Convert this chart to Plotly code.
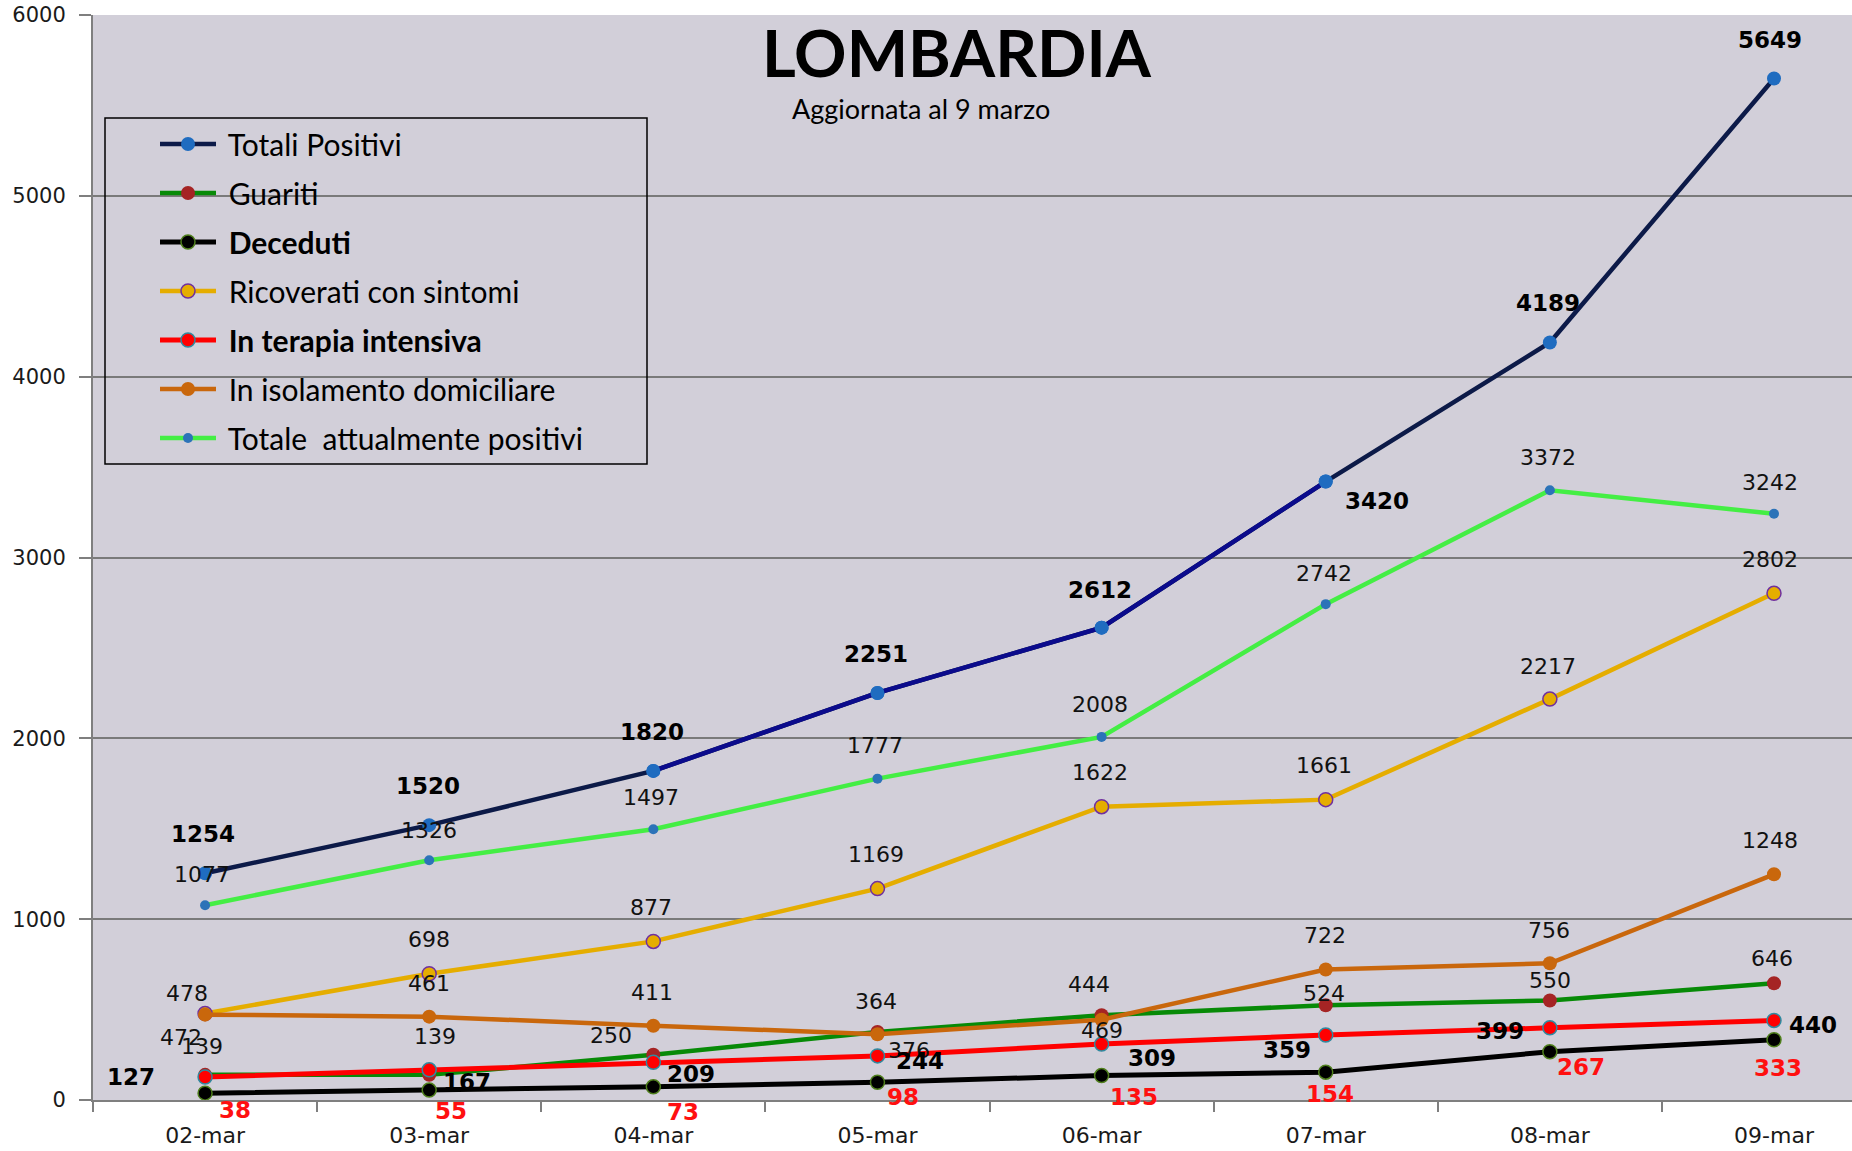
import plotly.graph_objects as go

# ---------------- data ----------------
dates = ["02-mar", "03-mar", "04-mar", "05-mar", "06-mar", "07-mar", "08-mar", "09-mar"]
totali_positivi = [1254, 1520, 1820, 2251, 2612, 3420, 4189, 5649]
guariti = [139, 139, 250, 376, 469, 524, 550, 646]
deceduti = [38, 55, 73, 98, 135, 154, 267, 333]
ricoverati = [478, 698, 877, 1169, 1622, 1661, 2217, 2802]
terapia_intensiva = [127, 167, 209, 244, 309, 359, 399, 440]
isolamento = [472, 461, 411, 364, 444, 722, 756, 1248]
attualmente_positivi = [1077, 1326, 1497, 1777, 2008, 2742, 3372, 3242]
y_ticks = [0, 1000, 2000, 3000, 4000, 5000, 6000]

title_text = "LOMBARDIA"
subtitle_text = "Aggiornata al 9 marzo"

# ---------------- styles ----------------
OFF = 0                      # body margin removed by post_script
W, H = 1852 - OFF, 1151 - OFF
ML, MR, MT, MB = 93 - OFF, 0, 15 - OFF, 1151 - 1100
LBL_FONT = "DejaVu Sans"
LEG_FONT = "Lato"
NB = "\u00a0"

fig = go.Figure()

series = [
    # name, data, line color, marker color, marker outline, outline width, marker size, line width
    ("Totali Positivi", totali_positivi, "#0c1a48", "#1f6cc0", "#1f6cc0", 0, 14, 4.5),
    ("Guariti", guariti, "#078a07", "#a52424", "#a52424", 0, 14, 4.5),
    ("<b>Deceduti</b>", deceduti, "#000000", "#000000", "#4f7f1c", 1.5, 14, 5),
    ("Ricoverati con sintomi", ricoverati, "#e5ad00", "#e5ad00", "#70309f", 1.5, 14, 4.5),
    ("<b>In terapia intensiva</b>", terapia_intensiva, "#ff0000", "#ff0000", "#2f8aa0", 1.5, 14, 5),
    ("In isolamento domiciliare", isolamento, "#c9670c", "#c9670c", "#c9670c", 0, 14, 4.5),
    ("Totale  attualmente positivi", attualmente_positivi, "#44ee44", "#2c73b8", "#2c73b8", 0, 10, 4.5),
]

for i, (name, data, lc, mc, olc, olw, ms, lw) in enumerate(series):
    fig.add_trace(go.Scatter(
        x=dates, y=data, name=NB + name, mode="lines+markers",
        line=dict(color=lc, width=lw),
        marker=dict(color=mc, size=ms, line=dict(color=olc, width=olw)),
        legendgroup="g%d" % i, cliponaxis=False,
    ))

# bluer middle segments of "Totali Positivi"
fig.add_trace(go.Scatter(
    x=dates[2:6], y=totali_positivi[2:6], mode="lines",
    line=dict(color="#0b0b8c", width=4.5), showlegend=False, hoverinfo="skip",
    cliponaxis=False,
))
fig.add_trace(go.Scatter(
    x=dates[2:6], y=totali_positivi[2:6], mode="markers",
    marker=dict(color="#1f6cc0", size=14), showlegend=False, hoverinfo="skip",
    cliponaxis=False,
))

# ---------------- data labels ----------------
def add_labels(values, offsets, size, color, bold=False, family=LBL_FONT):
    for d, v, (dx, dy) in zip(dates, values, offsets):
        txt = "<b>%d</b>" % v if bold else "%d" % v
        fig.add_annotation(x=d, y=v, text=txt, showarrow=False,
                           xshift=dx, yshift=dy,
                           font=dict(family=family, size=size, color=color))

BOLD_SIZE = 23
REG_SIZE = 22
add_labels(totali_positivi,
           [(-2, 39), (-1, 39), (-1, 39), (-1, 39), (-2, 38), (51, -19), (-2, 39), (-4, 38)],
           BOLD_SIZE, "#000000", bold=True)
add_labels(attualmente_positivi,
           [(-3, 31), (0, 30), (-2, 32), (-2, 33), (-2, 32), (-2, 31), (-2, 33), (-4, 31)],
           REG_SIZE, "#111111")
add_labels(ricoverati,
           [(-18, 20), (0, 34), (-2, 34), (-1, 34), (-2, 34), (-2, 34), (-2, 33), (-4, 34)],
           REG_SIZE, "#111111")
add_labels(isolamento,
           [(-24, -23), (0, 33), (-1, 33), (-1, 33), (-13, 35), (-1, 34), (-1, 33), (-4, 34)],
           REG_SIZE, "#111111")
add_labels(guariti,
           [(-3, 28), (6, 38), (-42, 19), (32, -18), (0, -15), (-2, 12), (0, 20), (-2, 25)],
           REG_SIZE, "#111111")
add_labels(terapia_intensiva,
           [(-74, 0), (38, -12), (38, -12), (43, -5), (50, -14), (-39, -15), (-50, -3), (39, -5)],
           BOLD_SIZE, "#000000", bold=True)
add_labels(deceduti,
           [(30, -17), (22, -21), (30, -25), (26, -15), (32, -21), (4, -22), (31, -15), (4, -28)],
           BOLD_SIZE, "#ff1010", bold=True)

# ---------------- title ----------------
pw = W - ML - MR
ph = H - MT - MB
def px_x(x):
    # page x -> paper fraction
    return (x - OFF - ML) / pw
def px_y(y):
    # page y -> paper fraction
    return (H - MB - (y - OFF)) / ph

fig.add_annotation(xref="paper", yref="paper", x=px_x(810 * 1.181), y=px_y(44 * 1.181),
                   text="<b>%s</b>" % title_text, showarrow=False,
                   xanchor="center", yanchor="middle",
                   font=dict(family="Lato", size=65, color="#000000"))
fig.add_annotation(xref="paper", yref="paper", x=px_x(780 * 1.181), y=px_y(92 * 1.181),
                   text=subtitle_text, showarrow=False,
                   xanchor="center", yanchor="middle",
                   font=dict(family="Lato", size=27, color="#000000"))

# legend box
fig.add_shape(type="rect", xref="paper", yref="paper",
              x0=px_x(105), x1=px_x(647), y0=px_y(464), y1=px_y(118),
              line=dict(color="#000000", width=1.5), fillcolor="rgba(0,0,0,0)")

fig.update_layout(
    width=W, height=H,
    margin=dict(l=ML, r=MR, t=MT, b=MB, autoexpand=False),
    paper_bgcolor="#ffffff",
    plot_bgcolor="#d2cfd9",
    showlegend=True,
    legend=dict(
        x=px_x(155), y=px_y(118), xanchor="left", yanchor="top",
        bgcolor="rgba(0,0,0,0)", borderwidth=0,
        font=dict(family=LEG_FONT, size=30, color="#000000"),
        itemwidth=56, tracegroupgap=7, traceorder="grouped",
    ),
    xaxis=dict(
        type="category", range=[-0.5, 7.348], automargin=False,
        showgrid=False, showline=True, linecolor="#7f7f7f", linewidth=2,
        ticks="outside", tickson="boundaries", ticklen=10, tickwidth=1.5,
        tickcolor="#7f7f7f", ticklabelstandoff=15,
        tickfont=dict(family=LBL_FONT, size=22, color="#1a1a1a"),
        zeroline=False,
    ),
    yaxis=dict(
        range=[0, 6000], tickvals=y_ticks, ticktext=[str(t) for t in y_ticks],
        automargin=False,
        showgrid=True, gridcolor="#7a7a7a", gridwidth=1.5,
        showline=True, linecolor="#7f7f7f", linewidth=2,
        ticks="outside", ticklen=12, tickwidth=1.5, tickcolor="#7f7f7f",
        ticklabelstandoff=9, ticklabeloverflow="allow",
        tickfont=dict(family=LBL_FONT, size=21, color="#1a1a1a"),
        zeroline=False,
    ),
)

fig.write_html(
    "out.html",
    config={"displayModeBar": False},
    post_script="document.body.style.margin='0px';document.body.style.overflow='hidden';",
)
